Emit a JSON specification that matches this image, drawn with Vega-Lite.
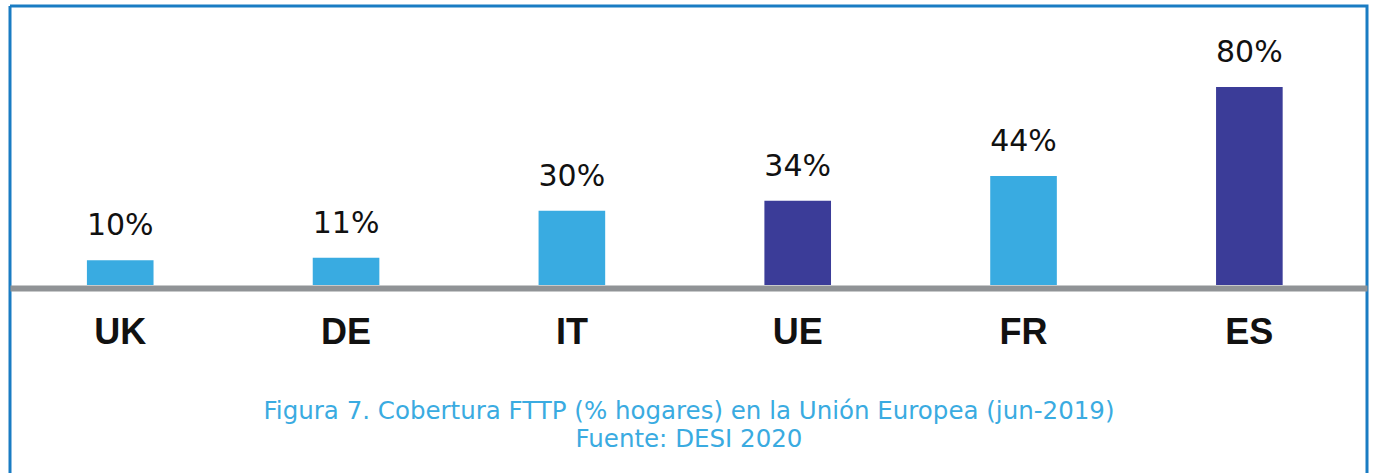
{
  "$schema": "https://vega.github.io/schema/vega-lite/v6.json",
  "autosize": {"type": "none"},
  "padding": {"left": 10, "top": 6, "right": 8, "bottom": 0},
  "width": 1357,
  "height": 467,
  "background": "white",
  "config": {
    "view": {"stroke": "#1a7cc3", "strokeWidth": 3, "strokeDash": [1824, 1357, 467, 0]}
  },
  "data": {
    "values": [
      {"pais": "UK", "valor": 10, "etiqueta": "10%", "grupo": "pais"},
      {"pais": "DE", "valor": 11, "etiqueta": "11%", "grupo": "pais"},
      {"pais": "IT", "valor": 30, "etiqueta": "30%", "grupo": "pais"},
      {"pais": "UE", "valor": 34, "etiqueta": "34%", "grupo": "destacado"},
      {"pais": "FR", "valor": 44, "etiqueta": "44%", "grupo": "pais"},
      {"pais": "ES", "valor": 80, "etiqueta": "80%", "grupo": "destacado"}
    ]
  },
  "encoding": {
    "x": {
      "field": "pais",
      "type": "nominal",
      "sort": null,
      "scale": {"paddingInner": 0.705, "paddingOuter": 0.357, "align": 0.477},
      "axis": {
        "orient": "bottom",
        "offset": -185,
        "domainColor": "#909396",
        "domainWidth": 6,
        "ticks": false,
        "grid": false,
        "labelAngle": 0,
        "labelFont": "Liberation Sans",
        "labelFontWeight": "bold",
        "labelFontSize": 36,
        "labelColor": "#111111",
        "labelBaseline": "alphabetic",
        "labelPadding": 55,
        "title": ["Figura 7. Cobertura FTTP (% hogares) en la Unión Europea (jun-2019)", "Fuente: DESI 2020"],
        "titleFont": "DejaVu Sans",
        "titleFontSize": 24.5,
        "titleFontWeight": "normal",
        "titleColor": "#3aabe1",
        "titleLineHeight": 28,
        "titleBaseline": "alphabetic",
        "titleY": 130.5
      }
    },
    "y": {
      "field": "valor",
      "type": "quantitative",
      "scale": {"domain": [-75.96, 112.73], "nice": false, "zero": false},
      "axis": null
    }
  },
  "layer": [
    {
      "mark": {"type": "bar"},
      "encoding": {
        "y2": {"datum": 0},
        "color": {
          "field": "grupo",
          "type": "nominal",
          "scale": {"domain": ["pais", "destacado"], "range": ["#39abe1", "#3b3c98"]},
          "legend": null
        }
      }
    },
    {
      "mark": {"type": "text", "baseline": "alphabetic", "dy": -25, "font": "DejaVu Sans", "fontSize": 30, "color": "#111111"},
      "encoding": {"text": {"field": "etiqueta"}}
    }
  ]
}
